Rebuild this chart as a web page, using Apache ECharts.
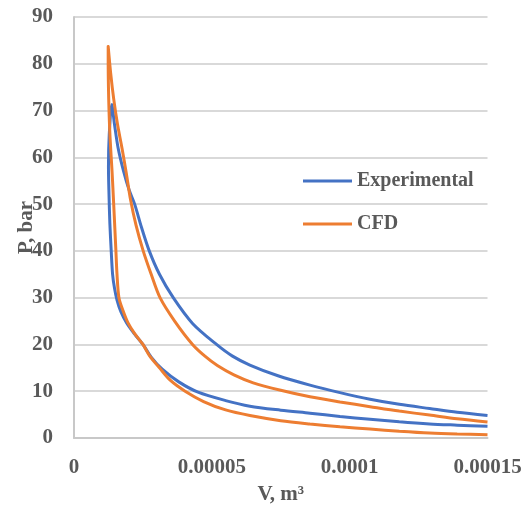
<!DOCTYPE html>
<html>
<head>
<meta charset="utf-8">
<script src="https://cdn.jsdelivr.net/npm/echarts@6/dist/echarts.min.js"></script>
<style>
html,body{margin:0;padding:0;background:#fff;}
#chart{width:525px;height:510px;}
</style>
</head>
<body>
<div id="chart"></div>
<script>
// Experimental loop: compression (right -> peak) then expansion (peak -> right)
var expV = [15.0e-5, 13.9e-5, 12.9e-5, 11.8e-5, 10.74e-5, 9.65e-5, 8.56e-5, 7.5e-5, 6.38e-5, 5.5e-5, 4.5e-5, 3.8e-5, 3.2e-5, 2.8e-5, 2.5e-5, 2.2e-5, 1.91e-5, 1.7e-5, 1.56e-5, 1.47e-5, 1.4e-5, 1.35e-5, 1.3e-5, 1.27e-5, 1.25e-5, 1.28e-5, 1.37e-5,
            1.47e-5, 1.6e-5, 1.8e-5, 2.0e-5, 2.2e-5, 2.45e-5, 2.73e-5, 3.1e-5, 3.6e-5, 4.3e-5, 5.17e-5, 5.75e-5, 6.38e-5, 7.4e-5, 8.56e-5, 9.65e-5, 10.74e-5, 11.8e-5, 12.9e-5, 13.9e-5, 15.0e-5];
var expP = [2.5, 2.75, 3.0, 3.45, 4.0, 4.6, 5.3, 5.95, 6.8, 8.0, 9.8, 12, 14.7, 17.3, 20, 22.2, 24.6, 27, 29.5, 32, 35, 40, 46, 52, 58, 65, 71.3,
            67, 62, 57, 53, 50, 45, 40, 35, 30, 24.5, 20, 17.5, 15.6, 13.3, 11.3, 9.7, 8.3, 7.2, 6.3, 5.5, 4.8];
// CFD loop
var cfdV = [15.0e-5, 13.9e-5, 12.9e-5, 11.8e-5, 10.74e-5, 9.65e-5, 8.56e-5, 7.5e-5, 6.38e-5, 5.5e-5, 4.7e-5, 4.03e-5, 3.5e-5, 3.1e-5, 2.75e-5, 2.5e-5, 2.2e-5, 1.96e-5, 1.78e-5, 1.63e-5, 1.56e-5, 1.52e-5, 1.48e-5, 1.44e-5, 1.38e-5, 1.31e-5, 1.27e-5, 1.25e-5, 1.24e-5, 1.24e-5,
            1.33e-5, 1.44e-5, 1.58e-5, 1.74e-5, 1.9e-5, 2.05e-5, 2.25e-5, 2.51e-5, 2.8e-5, 3.12e-5, 3.65e-5, 4.3e-5, 4.75e-5, 5.2e-5, 5.8e-5, 6.5e-5, 7.5e-5, 8.56e-5, 9.65e-5, 10.74e-5, 11.8e-5, 12.9e-5, 13.9e-5, 15.0e-5];
var cfdP = [0.7, 0.85, 1.06, 1.45, 1.9, 2.4, 3.0, 3.7, 4.8, 6.0, 7.8, 10, 12.3, 15, 17.5, 20, 22.3, 24.6, 27.2, 30, 35, 40, 45, 50, 57, 64, 70, 75, 80, 83.7,
            78, 72.5, 67, 62, 56.5, 51, 45.5, 40, 35, 30, 25, 20, 17.5, 15.5, 13.5, 11.8, 10.2, 8.8, 7.7, 6.7, 5.75, 4.9, 4.1, 3.4];
var seriesNames = ['Experimental', 'CFD'];
var xTickLabels = ['0', '0.00005', '0.0001', '0.00015'];
var xName = 'V, m\u00B3';
var yName = 'P, bar';

function pairs(v, p) { return v.map(function (x, i) { return [x, p[i]]; }); }

var font = "'Liberation Serif', 'Times New Roman', serif";
var txt = '#595959';
var chart = echarts.init(document.getElementById('chart'), null, {renderer: 'canvas'});
chart.setOption({
  animation: false,
  backgroundColor: '#ffffff',
  grid: {left: 74, right: 37.5, top: 17, bottom: 67},
  legend: {
    orient: 'vertical', left: 298, top: 166, itemGap: 23,
    itemWidth: 49, itemHeight: 3, icon: 'rect',
    textStyle: {fontFamily: font, fontWeight: 'bold', fontSize: 20, color: txt},
    data: seriesNames
  },
  xAxis: {
    type: 'value', min: 0, max: 0.00015, interval: 0.00005,
    name: xName, nameLocation: 'middle', nameGap: 46, nameMoveOverlap: false,
    nameTextStyle: {fontFamily: font, fontWeight: 'bold', fontSize: 21, color: txt},
    axisLine: {show: true, lineStyle: {color: '#c8c8c8', width: 2}},
    axisTick: {show: false},
    splitLine: {show: false},
    axisLabel: {
      margin: 19, fontFamily: font, fontWeight: 'bold', fontSize: 21, color: txt,
      formatter: function (v, i) { return xTickLabels[i]; }
    }
  },
  yAxis: {
    type: 'value', min: 0, max: 90, interval: 10,
    name: yName, nameLocation: 'middle', nameGap: 37, nameRotate: 90, nameMoveOverlap: false,
    nameTextStyle: {fontFamily: font, fontWeight: 'bold', fontSize: 21, color: txt},
    axisLine: {show: true, lineStyle: {color: '#c8c8c8', width: 2}},
    axisTick: {show: false},
    splitLine: {show: true, lineStyle: {color: '#d9d9d9', width: 2}},
    axisLabel: {margin: 21, fontFamily: font, fontWeight: 'bold', fontSize: 21, color: txt}
  },
  series: [
    {
      name: seriesNames[0], type: 'line', data: pairs(expV, expP),
      smooth: 0.3, symbol: 'none', showSymbol: false,
      lineStyle: {color: '#4472C4', width: 3}, itemStyle: {color: '#4472C4'}, z: 2
    },
    {
      name: seriesNames[1], type: 'line', data: pairs(cfdV, cfdP),
      smooth: 0.3, symbol: 'none', showSymbol: false,
      lineStyle: {color: '#ED7D31', width: 3}, itemStyle: {color: '#ED7D31'}, z: 3
    }
  ]
});
</script>
</body>
</html>
